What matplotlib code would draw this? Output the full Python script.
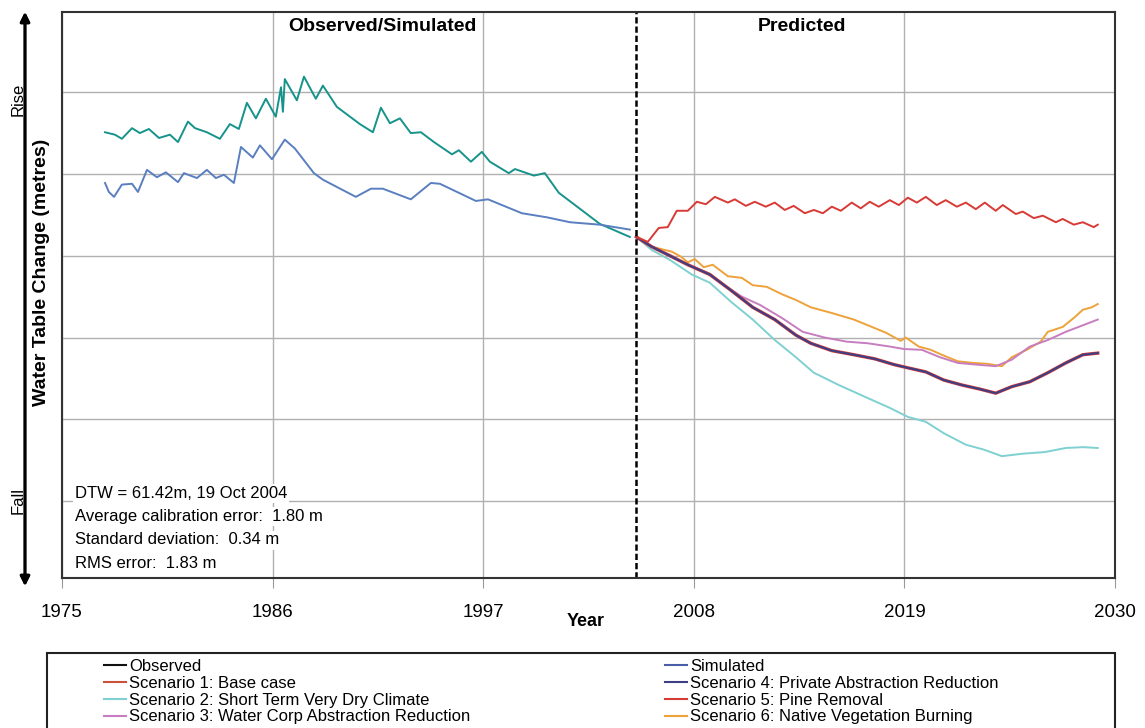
import matplotlib
matplotlib.use("Agg")
import matplotlib.pyplot as plt
from matplotlib.lines import Line2D
from matplotlib.patches import Rectangle

plt.rcParams['font.family'] = ['Liberation Sans', 'DejaVu Sans']

# observed / simulated period (years, relative water level)
obs_years = [1977.25, 1977.77, 1978.13, 1978.66, 1979.07, 1979.54, 1980.07, 1980.64, 1981.06, 1981.58,
             1981.95, 1982.57, 1983.25, 1983.77, 1984.24, 1984.66, 1985.13, 1985.65, 1986.17, 1986.44,
             1986.54, 1986.64, 1987.27, 1987.64, 1988.26, 1988.63, 1989.36, 1990.56, 1991.24, 1991.66,
             1992.13, 1992.65, 1993.22, 1993.75, 1994.43, 1995.37, 1995.73, 1996.36, 1996.93, 1997.35,
             1998.34, 1998.66, 1999.65, 2000.22, 2000.95, 2002.36, 2003.09, 2004.66]
obs_vals = [5.51, 5.48, 5.43, 5.56, 5.50, 5.55, 5.44, 5.48, 5.39, 5.64,
            5.56, 5.51, 5.43, 5.61, 5.55, 5.87, 5.68, 5.92, 5.70, 6.06,
            5.76, 6.16, 5.90, 6.19, 5.92, 6.08, 5.82, 5.61, 5.51, 5.81,
            5.62, 5.68, 5.50, 5.51, 5.39, 5.24, 5.29, 5.15, 5.27, 5.15,
            5.01, 5.06, 4.98, 5.01, 4.77, 4.52, 4.39, 4.23]

sim_years = [1977.25, 1977.45, 1977.72, 1978.13, 1978.66, 1978.97, 1979.44, 1979.96, 1980.43, 1981.06,
             1981.37, 1982.05, 1982.57, 1983.04, 1983.46, 1983.98, 1984.35, 1984.97, 1985.34, 1985.97,
             1986.64, 1987.17, 1988.16, 1988.63, 1990.35, 1991.14, 1991.76, 1993.22, 1994.27, 1994.74,
             1996.62, 1997.25, 1999.02, 2000.33, 2001.53, 2003.09, 2004.66]
sim_vals = [4.89, 4.78, 4.72, 4.87, 4.88, 4.78, 5.05, 4.96, 5.02, 4.90,
            5.01, 4.95, 5.05, 4.95, 4.99, 4.89, 5.33, 5.20, 5.35, 5.18,
            5.42, 5.31, 5.01, 4.93, 4.72, 4.82, 4.82, 4.69, 4.89, 4.88,
            4.67, 4.69, 4.52, 4.47, 4.41, 4.38, 4.32]

# scenario predictions
sc1_years = [2005.0, 2005.60, 2006.17, 2006.64, 2007.11, 2007.69, 2008.16, 2008.63, 2009.10, 2009.78,
             2010.14, 2010.72, 2011.19, 2011.76, 2012.23, 2012.75, 2013.22, 2013.80, 2014.27, 2014.74,
             2015.21, 2015.68, 2016.25, 2016.72, 2017.19, 2017.66, 2018.24, 2018.71, 2019.18, 2019.65,
             2020.12, 2020.69, 2021.16, 2021.74, 2022.21, 2022.73, 2023.20, 2023.77, 2024.14, 2024.82,
             2025.18, 2025.76, 2026.23, 2026.91, 2027.27, 2027.85, 2028.32, 2028.89, 2029.10]
sc1_vals = [4.23, 4.17, 4.34, 4.35, 4.55, 4.55, 4.66, 4.63, 4.72, 4.65,
            4.69, 4.61, 4.66, 4.60, 4.65, 4.56, 4.61, 4.52, 4.56, 4.52,
            4.60, 4.55, 4.65, 4.58, 4.66, 4.60, 4.68, 4.62, 4.71, 4.65,
            4.72, 4.62, 4.68, 4.60, 4.65, 4.57, 4.65, 4.55, 4.62, 4.51,
            4.54, 4.46, 4.49, 4.41, 4.45, 4.38, 4.41, 4.35, 4.38]

sc2_years = [2005.0, 2005.81, 2006.75, 2007.90, 2008.84, 2009.93, 2011.08, 2012.23, 2013.33, 2014.27,
             2015.57, 2017.09, 2018.24, 2019.18, 2020.12, 2021.06, 2022.21, 2023.15, 2024.09, 2025.18,
             2026.33, 2027.43, 2028.32, 2029.10]
sc2_vals = [4.23, 4.07, 3.95, 3.77, 3.67, 3.44, 3.22, 2.97, 2.76, 2.57,
            2.42, 2.26, 2.14, 2.03, 1.97, 1.83, 1.69, 1.63, 1.55, 1.58,
            1.60, 1.65, 1.66, 1.65]

sc3_years = [2005.0, 2005.81, 2006.75, 2007.69, 2008.84, 2009.57, 2010.51, 2011.45, 2012.60, 2013.69,
             2014.84, 2015.99, 2017.09, 2018.24, 2018.97, 2019.91, 2020.85, 2021.79, 2022.73, 2023.77,
             2024.61, 2025.55, 2026.49, 2027.43, 2028.32, 2029.10]
sc3_vals = [4.23, 4.11, 4.01, 3.89, 3.78, 3.64, 3.50, 3.40, 3.24, 3.07,
            3.00, 2.95, 2.93, 2.89, 2.86, 2.85, 2.76, 2.69, 2.67, 2.65,
            2.73, 2.89, 2.97, 3.07, 3.15, 3.22]

sc4_years = [2005.0, 2005.81, 2006.75, 2007.69, 2008.84, 2009.93, 2011.08, 2012.23, 2013.33, 2014.11,
             2015.21, 2016.36, 2017.45, 2018.45, 2019.18, 2020.12, 2021.06, 2022.00, 2022.94, 2023.77,
             2024.61, 2025.55, 2026.49, 2027.43, 2028.32, 2029.10]
sc4_vals = [4.23, 4.11, 4.00, 3.89, 3.77, 3.58, 3.37, 3.22, 3.03, 2.93,
            2.84, 2.79, 2.74, 2.67, 2.63, 2.58, 2.48, 2.42, 2.37, 2.32,
            2.40, 2.46, 2.57, 2.69, 2.79, 2.81]
sc5_years = sc4_years
sc5_vals = sc4_vals

sc6_years = [2005.0, 2005.81, 2006.85, 2007.32, 2007.69, 2008.05, 2008.52, 2008.99, 2009.78, 2010.51,
             2011.08, 2011.81, 2012.60, 2013.33, 2014.11, 2015.21, 2016.36, 2017.09, 2018.03, 2018.81,
             2019.07, 2019.75, 2020.38, 2020.95, 2021.79, 2022.57, 2023.30, 2024.09, 2024.61, 2025.39,
             2026.12, 2026.49, 2027.27, 2027.90, 2028.32, 2028.79, 2029.10]
sc6_vals = [4.23, 4.11, 4.05, 3.99, 3.92, 3.96, 3.86, 3.89, 3.75, 3.73,
            3.64, 3.62, 3.53, 3.46, 3.37, 3.30, 3.22, 3.15, 3.06, 2.96,
            3.00, 2.89, 2.85, 2.79, 2.71, 2.69, 2.68, 2.65, 2.76, 2.85,
            2.95, 3.07, 3.13, 3.25, 3.34, 3.37, 3.41]

year_ticks = [1975, 1986, 1997, 2008, 2019, 2030]
stats_lines = ["DTW = 61.42m, 19 Oct 2004",
               "Average calibration error:  1.80 m",
               "Standard deviation:  0.34 m",
               "RMS error:  1.83 m"]

legend_left = ["Observed", "Scenario 1: Base case", "Scenario 2: Short Term Very Dry Climate",
               "Scenario 3: Water Corp Abstraction Reduction"]
legend_left_colors = ["#111111", "#c9533a", "#7fd0d0", "#c77dbf"]
legend_right = ["Simulated", "Scenario 4: Private Abstraction Reduction", "Scenario 5: Pine Removal",
                "Scenario 6: Native Vegetation Burning"]
legend_right_colors = ["#4a5fa8", "#3d3f85", "#d83a35", "#eda23a"]

fig = plt.figure(figsize=(11.45, 7.28), dpi=100)
ax = fig.add_axes([0.0541, 0.206, 0.9197, 0.7775])

ax.plot(obs_years, obs_vals, color="#16938a", lw=1.4)
ax.plot(sim_years, sim_vals, color="#5a7fc0", lw=1.4)
ax.plot(sc2_years, sc2_vals, color="#7fd0d0", lw=1.4)
ax.plot(sc6_years, sc6_vals, color="#eda23a", lw=1.4)
ax.plot(sc3_years, sc3_vals, color="#c77dbf", lw=1.4)
ax.plot(sc5_years, sc5_vals, color="#d83a35", lw=2.4)
ax.plot(sc4_years, sc4_vals, color="#3d3f85", lw=1.5)
ax.plot(sc1_years, sc1_vals, color="#d83a35", lw=1.4)

ax.axvline(2005.0, color="black", lw=1.8, ls=(0, (2.5, 1.2)))

ax.set_xlim(1975, 2030)
ax.set_ylim(0.06, 6.98)
ax.set_xticks(year_ticks)
ax.set_yticks([1, 2, 3, 4, 5, 6])
ax.set_yticklabels([])
ax.tick_params(axis="y", length=0)
ax.tick_params(axis="x", length=7, color="#999999", labelsize=13.5, pad=11.5)
ax.grid(True, color="#b0b0b0", lw=1.0)
ax.set_axisbelow(True)
for s in ax.spines.values():
    s.set_color("#333333")
    s.set_linewidth(1.5)

ax.text(1991.76, 6.80, "Observed/Simulated", ha="center", va="center", fontsize=14, fontweight="bold")
ax.text(2013.64, 6.80, "Predicted", ha="center", va="center", fontsize=14, fontweight="bold")

for i, line in enumerate(stats_lines):
    fig.text(75 / 1145, 1 - (493 + i * 23.5) / 728, line, ha="left", va="center", fontsize=12,
             bbox=dict(facecolor="white", edgecolor="none", pad=1.5))

fig.text(586 / 1145, 1 - 622 / 728, "Year", ha="center", va="center", fontsize=13, fontweight="bold")
fig.text(42 / 1145, 1 - 272 / 728, "Water Table Change (metres)", rotation=90, ha="center",
         va="center", fontsize=14, fontweight="bold")
fig.text(18 / 1145, 1 - 99 / 728, "Rise", rotation=90, ha="center", va="center", fontsize=12)
fig.text(18 / 1145, 1 - 500 / 728, "Fall", rotation=90, ha="center", va="center", fontsize=12)
fig.add_artist(plt.annotate("", xy=(25 / 1145, 1 - 12 / 728), xytext=(25 / 1145, 1 - 586 / 728),
                            xycoords="figure fraction", textcoords="figure fraction",
                            arrowprops=dict(arrowstyle="<|-|>", color="black", lw=2,
                                            mutation_scale=14, shrinkA=0, shrinkB=0)))

fig.add_artist(Rectangle((47 / 1145, -0.05), (1115 - 47) / 1145, 0.05 + 1 - 653 / 728,
                         transform=fig.transFigure, facecolor="white", edgecolor="#222222", lw=1.5))

h_left = [Line2D([], [], color=c, lw=1.5) for c in legend_left_colors]
h_right = [Line2D([], [], color=c, lw=1.5) for c in legend_right_colors]
leg1 = fig.legend(h_left, legend_left, loc="upper left", bbox_to_anchor=(104 / 1145, 1 - 659 / 728),
                  frameon=False, fontsize=12, handlelength=1.3, handletextpad=0.2, labelspacing=0.11,
                  borderpad=0, borderaxespad=0)
leg2 = fig.legend(h_right, legend_right, loc="upper left", bbox_to_anchor=(665 / 1145, 1 - 659 / 728),
                  frameon=False, fontsize=12, handlelength=1.3, handletextpad=0.2, labelspacing=0.11,
                  borderpad=0, borderaxespad=0)

fig.savefig("out.png", dpi=100)
